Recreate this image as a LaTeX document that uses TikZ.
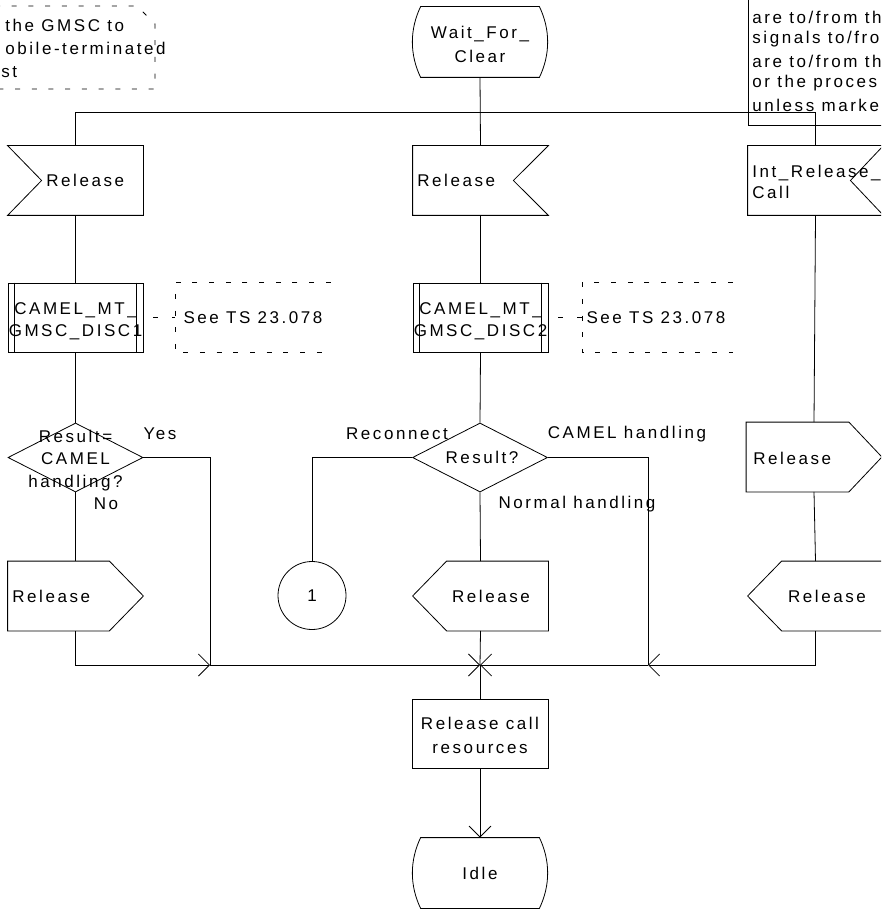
\documentclass[tikz,border=0pt]{standalone}
\usepackage{fontspec}
\setmainfont{Liberation Sans}[LetterSpace=15]
\usetikzlibrary{arrows.meta,calc,shapes.geometric}

\begin{document}
\begin{tikzpicture}[x=1pt,y=-1pt,line width=0.8pt,
  every node/.style={font=\fontsize{17}{23}\selectfont,inner sep=0pt},
  sdlbox/.style={minimum width=135pt,minimum height=69pt,draw=none},
  decision/.style={diamond,draw,minimum width=135pt,minimum height=69pt},
  plainbox/.style={sdlbox,draw},
  txt/.style={align=center},
  ltxt/.style={anchor=west,align=left},
  cmtline/.style={dash pattern=on 5pt off 11.7pt},
  arr/.style={-{Straight Barb[length=11pt,width=22pt]}}]

\useasboundingbox (0,0) rectangle (881,909);
\clip (0,0) rectangle (881,909);

% ---------- comment at the upper left ----------
\draw[cmtline] (-5,6) -- (137,6) -- (155,24) -- (155,89) -- (-5,89);
\node[ltxt] (cmtA1) at (5,25) {the GMSC to};
\node[ltxt] (cmtA2) at (5,48) {obile-terminated};
\node[ltxt] (cmtA3) at (1,72) {st};

% ---------- text symbol at the upper right ----------
\draw (748,-5) -- (748,125) -- (890,125);
\node[ltxt] (note1) at (752,17) {are to/from th};
\node[ltxt] (note2) at (752,39) {signals to/fro};
\node[ltxt] (note3) at (752,61) {are to/from th};
\node[ltxt] (note4) at (752,83) {or the proces};
\node[ltxt] (note5) at (752,105) {unless marke};

% ---------- state Wait_For_Clear ----------
\node[sdlbox,minimum width=136pt,minimum height=70pt] (wfc) at (480,42) {};
\draw ($(wfc.north west)+(9,0)$) -- ($(wfc.north east)+(-9,0)$)
  .. controls ($(wfc.north east)+(2,23)$) and ($(wfc.south east)+(2,-23)$) .. ($(wfc.south east)+(-9,0)$)
  -- ($(wfc.south west)+(9,0)$)
  .. controls ($(wfc.south west)+(-2,-23)$) and ($(wfc.north west)+(-2,23)$) .. cycle;
\node[txt] (wfct) at (480,44) {Wait\_For\_\\[1pt]Clear};

% ---------- signal inputs ----------
\node[sdlbox] (relin1) at (75.5,180.5) {};
\draw (relin1.north west) -- (relin1.north east) -- (relin1.south east)
  -- (relin1.south west) -- ($(relin1.west)+(34,0)$) -- cycle;
\node[ltxt] (relin1t) at (46,180.5) {Release};

\node[sdlbox] (relin2) at (480.5,180.5) {};
\draw (relin2.north west) -- (relin2.north east) -- ($(relin2.east)+(-35,0)$)
  -- (relin2.south east) -- (relin2.south west) -- cycle;
\node[ltxt] (relin2t) at (417,180.5) {Release};

\node[sdlbox] (intrel) at (815.5,180.5) {};
\draw (intrel.north west) -- (intrel.north east) -- ($(intrel.east)+(-33,0)$)
  -- (intrel.south east) -- (intrel.south west) -- cycle;
\node[ltxt] (intrelt) at (752,182) {Int\_Release\_\\[-2pt]Call};

% ---------- procedure calls and their comments ----------
\node[plainbox] (proc1) at (75.5,317.5) {};
\draw ($(proc1.north west)+(7,0)$) -- ($(proc1.south west)+(7,0)$);
\draw ($(proc1.north east)+(-7,0)$) -- ($(proc1.south east)+(-7,0)$);
\node[txt] (proc1t) at (75.5,321) {CAMEL\_MT\_\\[-1pt]GMSC\_DISC1};

\node[plainbox] (proc2) at (480.5,317.5) {};
\draw ($(proc2.north west)+(7,0)$) -- ($(proc2.south west)+(7,0)$);
\draw ($(proc2.north east)+(-7,0)$) -- ($(proc2.south east)+(-7,0)$);
\node[txt] (proc2t) at (480.5,321) {CAMEL\_MT\_\\[-1pt]GMSC\_DISC2};

\node[minimum width=155pt,minimum height=69pt,anchor=west] (cmt1) at (175,317.5) {};
\draw[cmtline] (cmt1.north east) -- (cmt1.north west) -- (cmt1.south west) -- (cmt1.south east);
\node (cmt1t) at (253,318) {See TS 23.078};
\draw[dash pattern=on 5pt off 14pt,dash phase=-10pt] (proc1.east) -- (cmt1.west);

\node[minimum width=150pt,minimum height=69pt,anchor=west] (cmt2) at (582,317.5) {};
\draw[cmtline] (cmt2.north east) -- (cmt2.north west) -- (cmt2.south west) -- (cmt2.south east);
\node (cmt2t) at (656,318) {See TS 23.078};
\draw[dash pattern=on 5pt off 14pt,dash phase=-10pt] (proc2.east) -- (cmt2.west);

% ---------- decisions ----------
\node[decision] (dec1) at (75.5,457.5) {};
\node[txt] (dec1t) at (75.5,460.5) {Result=\\[-0.5pt]CAMEL\\[-0.5pt]handling?};
\node[decision] (dec2) at (480,457.5) {};
\node (dec2t) at (482,457) {Result?};

\node (yes1) at (160,434) {Yes};
\node (no1) at (106,504) {No};
\node (recon) at (397,434) {Reconnect};
\node (camh) at (627,434) {CAMEL handling};
\node (normh) at (577,504) {Normal handling};

% ---------- signal outputs ----------
\node[sdlbox] (relout4a) at (814,457) {};
\draw (relout4a.north west) -- ($(relout4a.north east)+(-33,0)$) -- (relout4a.east)
  -- ($(relout4a.south east)+(-33,0)$) -- (relout4a.south west) -- cycle;
\node[ltxt] (relout4at) at (753,458) {Release};

\node[sdlbox] (relout1) at (75.5,596) {};
\draw (relout1.north west) -- ($(relout1.north east)+(-34,0)$) -- (relout1.east)
  -- ($(relout1.south east)+(-34,0)$) -- (relout1.south west) -- cycle;
\node[ltxt] (relout1t) at (12,596) {Release};

\node[sdlbox] (relout2) at (480.5,596) {};
\draw (relout2.west) -- ($(relout2.north west)+(34,0)$) -- (relout2.north east)
  -- (relout2.south east) -- ($(relout2.south west)+(34,0)$) -- cycle;
\node (relout2t) at (491,596) {Release};

\node[sdlbox] (relout4b) at (815.5,596) {};
\draw (relout4b.west) -- ($(relout4b.north west)+(34,0)$) -- (relout4b.north east)
  -- (relout4b.south east) -- ($(relout4b.south west)+(34,0)$) -- cycle;
\node (relout4bt) at (827,596) {Release};

% ---------- connector ----------
\node[circle,draw,minimum size=68pt] (con1) at (312,595.5) {};
\node (con1t) at (312,596) {1};

% ---------- task and final state ----------
\node[plainbox,minimum width=136pt] (rcr) at (480,733.5) {};
\node[txt] (rcrt) at (480,735.5) {Release call\\[1pt]resources};

\node[sdlbox,minimum width=136pt,minimum height=70pt] (idle) at (480,873) {};
\draw ($(idle.north west)+(9,0)$) -- ($(idle.north east)+(-9,0)$)
  .. controls ($(idle.north east)+(2,23)$) and ($(idle.south east)+(2,-23)$) .. ($(idle.south east)+(-9,0)$)
  -- ($(idle.south west)+(9,0)$)
  .. controls ($(idle.south west)+(-2,-23)$) and ($(idle.north west)+(-2,23)$) .. cycle;
\node (idlet) at (480,873) {Idle};

% ---------- flow lines ----------
\coordinate (bus1) at (75.5,112);
\coordinate (bus4) at (815.5,112);
\coordinate (m1) at (210,665);
\coordinate (m2) at (480,665);
\coordinate (m3) at (648,665);

\draw (wfc.south) -- (relin2.north);
\draw (relin1.north) -- (bus1) -- (bus4) -- (intrel.north);

\draw (relin1.south) -- (proc1.north);
\draw (proc1.south) -- (dec1.north);
\draw (dec1.south) -- (relout1.north);
\draw (dec1.east) -| (m1);
\draw[arr] (relout1.south) |- (m1);
\draw[arr] (m1) -- (m2);

\draw (relin2.south) -- (proc2.north);
\draw (proc2.south) -- (dec2.north);
\draw (dec2.south) -- (relout2.north);
\draw (dec2.west) -| (con1.north);
\draw (dec2.east) -| (m3);
\draw (relout2.south) -- (m2);

\draw (intrel.south) -- (relout4a.north);
\draw (relout4a.south) -- (relout4b.north);
\draw[arr] (relout4b.south) |- (m3);
\draw[arr] (m3) -- (m2);

\draw (m2) -- (rcr.north);
\draw[arr] (rcr.south) -- (idle.north);
\end{tikzpicture}
\end{document}
